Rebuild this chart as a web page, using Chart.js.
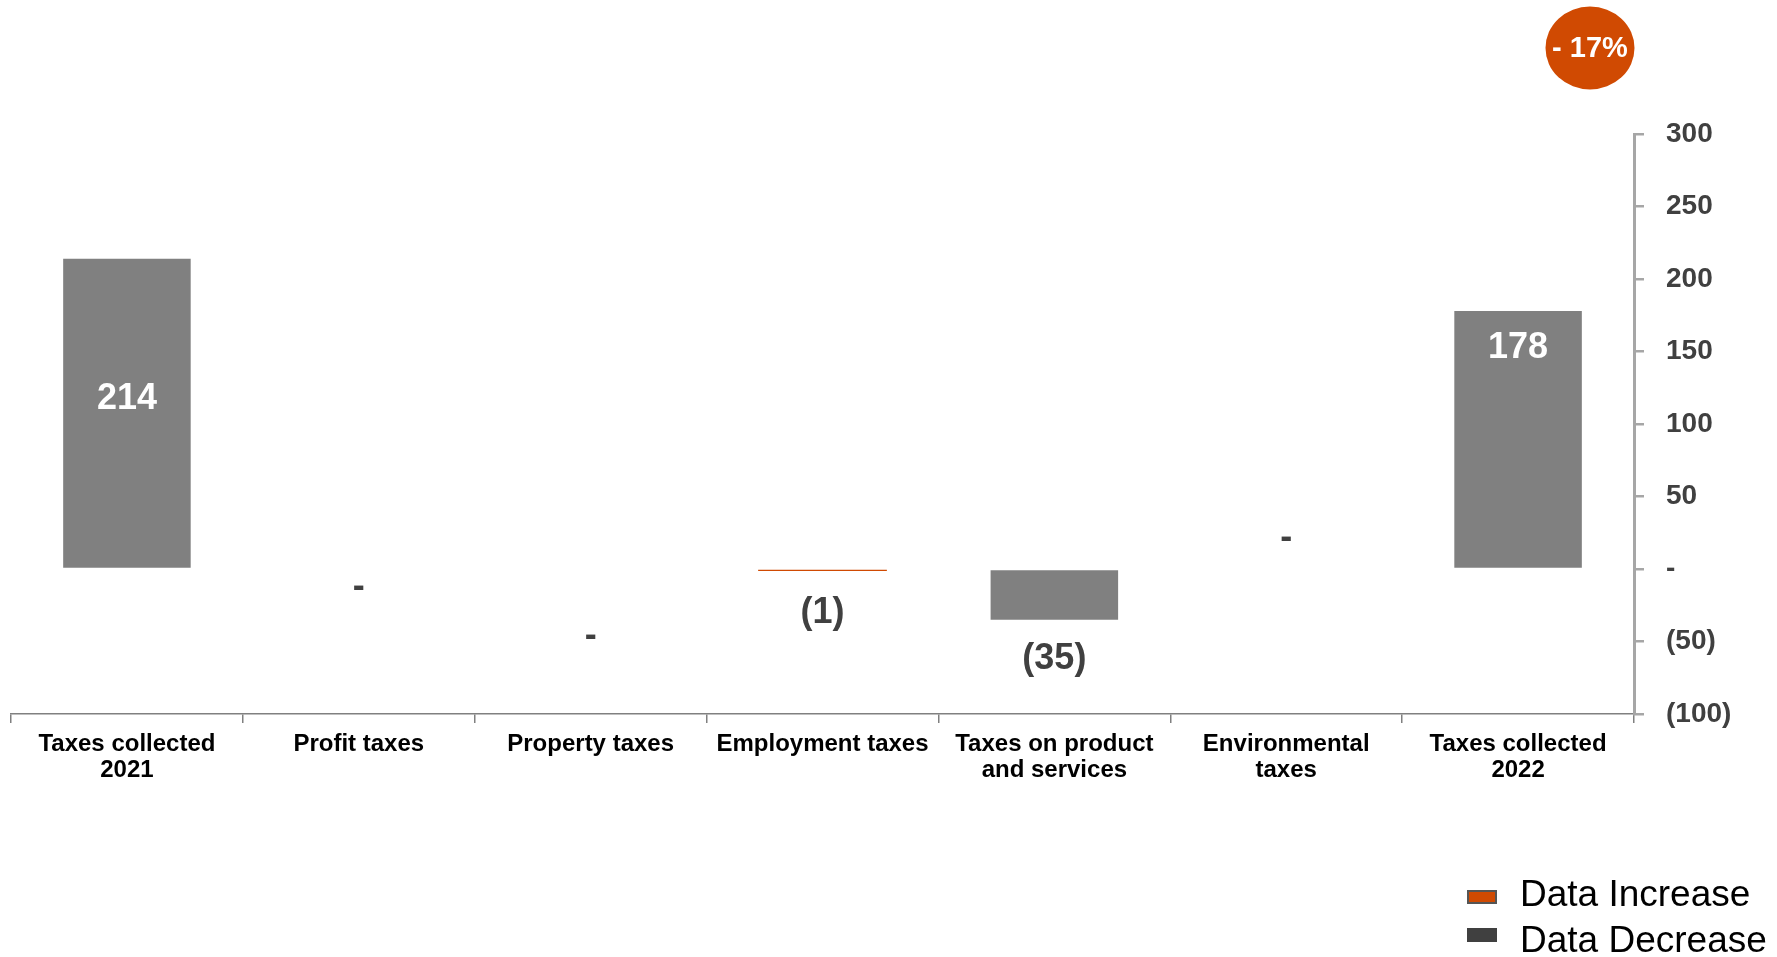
<!DOCTYPE html>
<html>
<head>
<meta charset="utf-8">
<title>Taxes collected 2021 - 2022</title>
<script src="https://cdn.jsdelivr.net/npm/chart.js@4/dist/chart.umd.min.js"></script>
<style>
  html, body { margin: 0; padding: 0; background: #fff; }
  #wrap { position: relative; width: 1777px; height: 957px; }
</style>
</head>
<body>
<div id="wrap"><canvas id="grafico"></canvas></div>
<script>
// categorias y valores (millones)
const categorias = [
  ['Taxes collected', '2021'],
  'Profit taxes',
  'Property taxes',
  'Employment taxes',
  ['Taxes on product', 'and services'],
  ['Environmental', 'taxes'],
  ['Taxes collected', '2022']
];
const valores = [214, 0, 0, -1, -35, 0, 178];
const tipoBarra = ['total', 'cero', 'cero', 'aumento', 'disminucion', 'cero', 'total'];
const ticksY = [-100, -50, 0, 50, 100, 150, 200, 250, 300];
const variacion = '- 17%';
const leyenda = ['Data Increase', 'Data Decrease'];

const NARANJA = '#d04a02';
const GRIS = '#808080';
const OSCURO = '#404040';
const FUENTE = '"Liberation Sans", Arial, sans-serif';

const colores = tipoBarra.map(t => t === 'aumento' ? NARANJA : GRIS);

function formato(v) {
  if (v === 0) return '-';
  if (v < 0) return '(' + Math.abs(v) + ')';
  return String(v);
}

// desplazamiento vertical de cada etiqueta respecto al extremo de la barra
const despEtiqueta = [140, 18, 67, 43, 39, -31, 37];

const etiquetasValor = {
  id: 'etiquetasValor',
  afterDatasetsDraw(chart) {
    const ctx = chart.ctx;
    const meta = chart.getDatasetMeta(0);
    ctx.save();
    ctx.font = 'bold 36px ' + FUENTE;
    ctx.textAlign = 'center';
    ctx.textBaseline = 'middle';
    meta.data.forEach((barra, i) => {
      ctx.fillStyle = tipoBarra[i] === 'total' ? '#ffffff' : OSCURO;
      ctx.fillText(formato(valores[i]), barra.x, barra.y + despEtiqueta[i]);
    });
    ctx.restore();
  }
};

// circulo con la variacion y leyenda abajo a la derecha
const extras = {
  id: 'extras',
  afterDraw(chart) {
    const ctx = chart.ctx;
    ctx.save();
    ctx.fillStyle = NARANJA;
    ctx.beginPath();
    ctx.ellipse(1590, 48, 44.5, 41.5, 0, 0, Math.PI * 2);
    ctx.fill();
    ctx.fillStyle = '#ffffff';
    ctx.font = 'bold 29px ' + FUENTE;
    ctx.textAlign = 'center';
    ctx.textBaseline = 'middle';
    ctx.fillText(variacion, 1590, 49);

    const cajas = [
      { fondo: NARANJA, borde: '#555555', yCaja: 897, yTexto: 896 },
      { fondo: OSCURO, borde: OSCURO, yCaja: 935, yTexto: 942 }
    ];
    ctx.font = '37px ' + FUENTE;
    ctx.textAlign = 'left';
    cajas.forEach((c, i) => {
      ctx.fillStyle = c.fondo;
      ctx.strokeStyle = c.borde;
      ctx.lineWidth = 2;
      ctx.fillRect(1468, c.yCaja - 6, 28, 12);
      ctx.strokeRect(1468, c.yCaja - 6, 28, 12);
      ctx.fillStyle = '#000000';
      ctx.fillText(leyenda[i], 1520, c.yTexto);
    });
    ctx.restore();
  }
};

new Chart(document.getElementById('grafico'), {
  type: 'bar',
  data: {
    labels: categorias,
    datasets: [{
      label: 'Taxes',
      data: valores,
      backgroundColor: colores,
      borderWidth: 0,
      inflateAmount: ctx => tipoBarra[ctx.dataIndex] === 'aumento' ? 0.6 : 'auto',
      categoryPercentage: 1,
      barPercentage: 0.55
    }]
  },
  options: {
    responsive: true,
    maintainAspectRatio: false,
    animation: false,
    layout: { padding: { left: 11, top: 134, right: 0, bottom: 0 } },
    plugins: {
      legend: { display: false },
      tooltip: { enabled: false }
    },
    scales: {
      x: {
        afterFit: s => { s.height = 243; },
        grid: {
          offset: true,
          drawOnChartArea: false,
          drawTicks: true,
          tickLength: 9,
          color: GRIS,
          lineWidth: 1.5
        },
        border: { display: true, color: GRIS, width: 1.5 },
        ticks: {
          color: '#000000',
          padding: 8,
          maxRotation: 0,
          autoSkip: false,
          font: { family: FUENTE, size: 24, weight: 'bold', lineHeight: 1.1 }
        }
      },
      y: {
        position: 'right',
        min: -100,
        max: 300,
        afterFit: s => { s.width = 143; },
        afterBuildTicks: s => { s.ticks = ticksY.map(v => ({ value: v })); },
        grid: {
          drawOnChartArea: false,
          drawTicks: true,
          tickLength: 10,
          color: '#a6a6a6',
          lineWidth: 2.5
        },
        border: { display: true, color: '#a6a6a6', width: 3 },
        ticks: {
          color: OSCURO,
          padding: 22,
          callback: v => formato(v),
          font: { family: FUENTE, size: 28, weight: 'bold' }
        }
      }
    }
  },
  plugins: [etiquetasValor, extras]
});
</script>
</body>
</html>
